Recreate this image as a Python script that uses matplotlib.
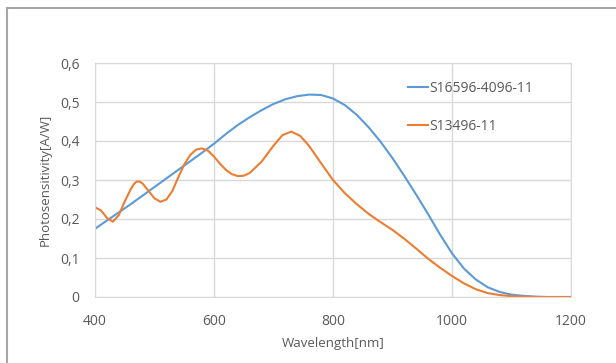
import matplotlib
matplotlib.use("Agg")
import matplotlib.pyplot as plt
from matplotlib.lines import Line2D
from matplotlib.ticker import FuncFormatter

# 読み取ったデータ
wl_blue = [400, 420, 440, 460, 480, 500, 520, 540, 560, 580, 600, 620, 640, 660,
           680, 700, 720, 740, 760, 780, 800, 820, 840, 860, 880, 900, 920, 940,
           960, 980, 1000, 1020, 1040, 1060, 1080, 1100, 1120, 1140, 1160, 1200]
s16596 = [0.175, 0.196, 0.217, 0.238, 0.260, 0.282, 0.304, 0.326, 0.348, 0.370,
          0.393, 0.418, 0.441, 0.461, 0.479, 0.495, 0.507, 0.515, 0.519, 0.518,
          0.509, 0.492, 0.467, 0.435, 0.398, 0.356, 0.310, 0.262, 0.212, 0.160,
          0.112, 0.073, 0.045, 0.025, 0.013, 0.006, 0.003, 0.001, 0.0, 0.0]

wl_orange = [400, 410, 420, 430, 440, 450, 460, 465, 470, 475, 480, 490, 500, 510,
             520, 530, 540, 550, 560, 570, 580, 590, 600, 610, 620, 630, 640, 650,
             660, 680, 700, 715, 730, 745, 760, 780, 800, 820, 840, 860, 880, 900,
             920, 940, 960, 980, 1000, 1020, 1040, 1060, 1080, 1100, 1120, 1140, 1200]
s13496 = [0.230, 0.222, 0.203, 0.193, 0.210, 0.245, 0.276, 0.289, 0.296, 0.296,
          0.291, 0.272, 0.253, 0.244, 0.250, 0.272, 0.307, 0.340, 0.364, 0.378,
          0.381, 0.375, 0.360, 0.342, 0.326, 0.315, 0.310, 0.311, 0.318, 0.347,
          0.388, 0.415, 0.424, 0.413, 0.387, 0.343, 0.300, 0.266, 0.238, 0.213,
          0.192, 0.172, 0.149, 0.124, 0.098, 0.075, 0.054, 0.035, 0.020, 0.010,
          0.005, 0.002, 0.001, 0.0, 0.0]

x_ticks = [400, 600, 800, 1000, 1200]
y_ticks = [0, 0.1, 0.2, 0.3, 0.4, 0.5, 0.6]

plt.rcParams["font.family"] = ["Open Sans", "DejaVu Sans"]
txt = "#595959"
grid = "#d9d9d9"

fig = plt.figure(figsize=(6.16, 3.63), dpi=100)
ax = fig.add_axes([95 / 616, 66 / 363, 476 / 616, 234 / 363])

ax.plot(wl_blue, s16596, color="#5B9BD5", lw=1.5, label="S16596-4096-11")
ax.plot(wl_orange, s13496, color="#ED7D31", lw=1.5, label="S13496-11")

ax.set_xlim(400, 1200)
ax.set_ylim(0, 0.6)
ax.set_xticks(x_ticks)
ax.set_yticks(y_ticks)
ax.yaxis.set_major_formatter(FuncFormatter(lambda v, p: "0" if v == 0 else f"{v:.1f}".replace(".", ",")))
ax.grid(True, color=grid, lw=1)
ax.set_axisbelow(True)
for s in ax.spines.values():
    s.set_color(grid)
ax.tick_params(length=0, labelsize=10, colors=txt)
ax.tick_params(axis="x", pad=12)
ax.tick_params(axis="y", pad=11)

ax.set_xlabel("Wavelength[nm]", fontsize=9.5, color=txt, labelpad=6)
ax.set_ylabel("Photosensitivity[A/W]", fontsize=9.5, color=txt, labelpad=6)

ax.legend(loc="upper left", bbox_to_anchor=(0.632, 0.975), frameon=False,
          fontsize=10, labelcolor=txt, handlelength=1.4, handletextpad=0.1,
          labelspacing=1.65)

# 外枠 (上と左)
fig.add_artist(Line2D([7 / 616, 1], [1 - 8 / 363, 1 - 8 / 363], color="#a6a6a6", lw=1.5))
fig.add_artist(Line2D([7 / 616, 7 / 616], [0, 1 - 8 / 363], color="#a6a6a6", lw=1.5))

fig.savefig("out.png", dpi=100)
